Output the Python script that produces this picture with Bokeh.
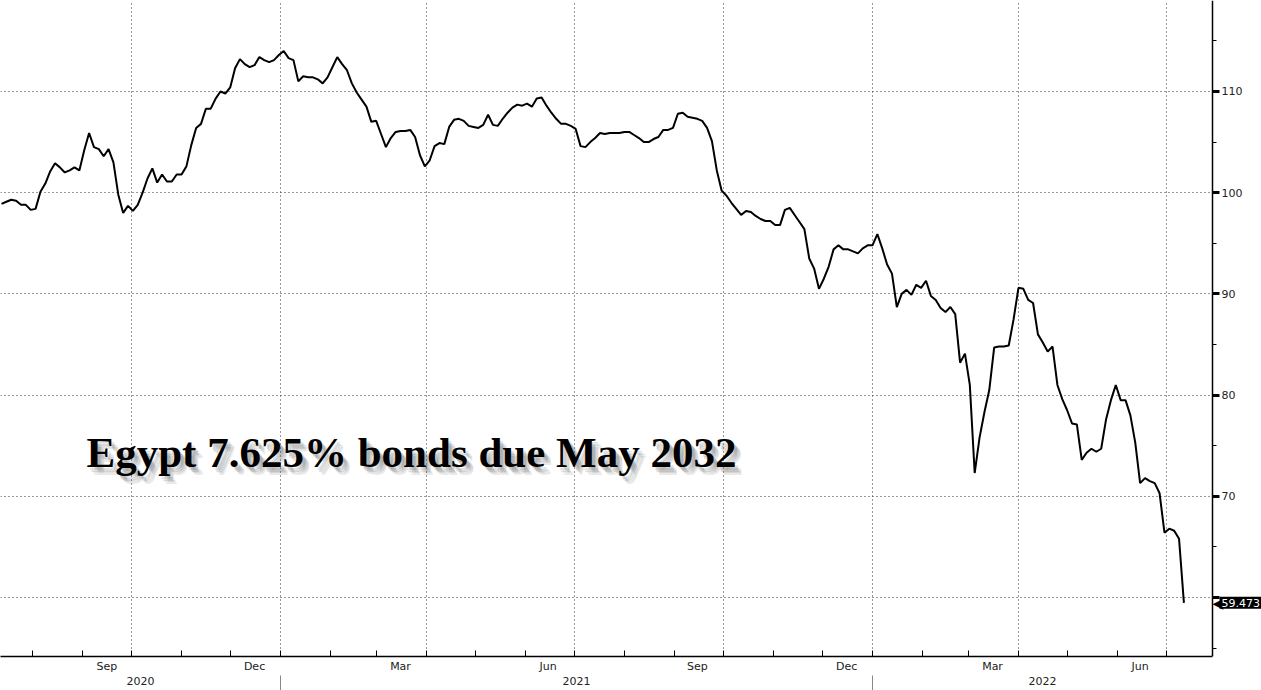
import pandas as pd
from bokeh.plotting import figure
from bokeh.models import (Range1d, FixedTicker, DatetimeAxis, DatetimeTickFormatter,
                          Label, Grid, BoxAnnotation, LinearAxis)
from bokeh.embed import file_html
from bokeh.resources import INLINE

# ---------------- data ----------------
title_text = "Egypt 7.625% bonds due May 2032"
start_date = "2020-07-13"
step = "3D"
price = [
    98.9, 99.1, 99.3, 99.2, 98.8, 98.8, 98.3, 98.4, 100.1, 100.9,
    102.1, 102.9, 102.5, 102.0, 102.2, 102.5, 102.2, 104.2, 105.9, 104.5,
    104.3, 103.6, 104.3, 103.0, 99.8, 98.0, 98.7, 98.2, 98.8, 100.0,
    101.4, 102.4, 101.0, 101.8, 101.1, 101.1, 101.8, 101.8, 102.6, 104.7,
    106.4, 106.8, 108.3, 108.3, 109.3, 110.0, 109.8, 110.4, 112.3, 113.2,
    112.7, 112.4, 112.6, 113.4, 113.1, 112.9, 113.1, 113.6, 114.0, 113.3,
    113.1, 111.0, 111.5, 111.4, 111.4, 111.2, 110.8, 111.4, 112.4, 113.4,
    112.7, 112.1, 110.8, 109.9, 109.2, 108.5, 107.0, 107.1, 105.8, 104.5,
    105.4, 106.0, 106.1, 106.1, 106.2, 105.5, 103.7, 102.6, 103.2, 104.6,
    104.9, 104.8, 106.5, 107.2, 107.3, 107.1, 106.6, 106.5, 106.4, 106.7,
    107.7, 106.7, 106.6, 107.3, 107.9, 108.4, 108.7, 108.6, 108.8, 108.5,
    109.3, 109.4, 108.6, 107.9, 107.3, 106.8, 106.8, 106.6, 106.3, 104.6,
    104.5, 105.0, 105.4, 105.9, 105.8, 105.9, 105.9, 105.9, 106.0, 106.0,
    105.7, 105.4, 105.0, 105.0, 105.3, 105.5, 106.2, 106.2, 106.4, 107.8,
    107.9, 107.5, 107.4, 107.3, 107.1, 106.4, 105.1, 102.2, 100.2, 99.7,
    99.0, 98.4, 97.8, 98.2, 98.1, 97.7, 97.4, 97.2, 97.2, 96.8,
    96.8, 98.3, 98.5, 97.8, 97.1, 96.4, 93.5, 92.5, 90.5, 91.5,
    92.7, 94.4, 94.8, 94.4, 94.4, 94.2, 94.0, 94.5, 94.8, 94.8,
    95.9, 94.5, 92.9, 92.0, 88.7, 90.0, 90.4, 89.9, 90.9, 90.6,
    91.3, 89.8, 89.4, 88.6, 88.2, 88.7, 88.0, 83.2, 84.1, 81.0,
    72.3, 75.8, 78.3, 80.5, 84.7, 84.8, 84.8, 84.9, 87.5, 90.6,
    90.5, 89.4, 89.1, 86.0, 85.2, 84.3, 84.8, 81.0, 79.6, 78.5,
    77.2, 77.1, 73.6, 74.3, 74.7, 74.4, 74.7, 77.6, 79.5, 81.0,
    79.5, 79.5, 78.0, 75.3, 71.3, 71.8, 71.5, 71.3, 70.3, 66.4,
    66.8, 66.6, 65.8, 59.473,
]
dates = pd.date_range(start_date, periods=len(price), freq=step)
last_value = price[-1]

x_start = "2020-07-12 09:00"      # left edge of the chart
x_axis_at = "2022-07-29 15:00"    # where the price axis sits
x_far = "2022-08-28 20:00"        # right edge of the canvas (label strip)
y_low, y_high = 54.17, 118.99

month_label_dates = ["2020-09-16", "2020-12-16", "2021-03-16", "2021-06-15",
                     "2021-09-15", "2021-12-16", "2022-03-16", "2022-06-15"]
month_starts = list(pd.date_range("2020-08-01", "2022-07-01", freq="MS"))
quarter_lines = ["2020-10-01", "2021-01-01", "2021-04-01", "2021-07-01",
                 "2021-10-01", "2022-01-01", "2022-04-01", "2022-07-01"]
year_starts = ["2021-01-01", "2022-01-01"]
y_major = [60, 70, 80, 90, 100, 110]
y_minor = [55, 65, 75, 85, 95, 105, 115]
y_hidden_labels = {60: ""}        # covered by the last-value box in the original


def ms(d):
    return pd.Timestamp(d).value / 1e6


def fmt(s):
    keys = ["microseconds", "milliseconds", "seconds", "minsec", "minutes",
            "hourmin", "hours", "days", "months", "years"]
    return DatetimeTickFormatter(**{k: s for k in keys})


bounds = [ms(x_start)] + [ms(d) for d in year_starts] + [ms(x_axis_at)]
year_centres = [(bounds[i] + bounds[i + 1]) / 2 for i in range(len(bounds) - 1)]

FW, FH = 1261, 656

# ---------------- figure ----------------
p = figure(frame_width=FW, frame_height=FH, x_axis_type=None, y_axis_type=None,
           x_range=Range1d(ms(x_start), ms(x_far)), y_range=Range1d(y_low, y_high),
           output_backend="svg", toolbar_location=None,
           min_border_left=0, min_border_top=0, min_border_bottom=34,
           min_border_right=0)
p.outline_line_color = None
p.background_fill_color = "white"
p.border_fill_color = "white"

# grids
GRID_COLOR = "#333333"
GRID_DASH = "1 3"
ygrid = Grid(dimension=1, ticker=FixedTicker(ticks=y_major),
             grid_line_color=GRID_COLOR, grid_line_dash=GRID_DASH, grid_line_width=1)
xgrid = Grid(dimension=0, ticker=FixedTicker(ticks=[ms(d) for d in quarter_lines]),
             grid_line_color=GRID_COLOR, grid_line_dash=GRID_DASH, grid_line_width=1)
p.add_layout(ygrid)
p.add_layout(xgrid)
# blank strip right of the price axis (covers the grid there)
p.add_layout(BoxAnnotation(left=ms(x_axis_at), right=ms(x_far), fill_color="white",
                           fill_alpha=1, line_color=None, level="underlay"))

LABEL_FONT = dict(major_label_text_font="DejaVu Sans", major_label_text_font_size="11px",
                  major_label_text_color="#222222")

# price axis, pinned at x_axis_at
ya = LinearAxis(ticker=FixedTicker(ticks=y_major, minor_ticks=y_minor),
                fixed_location=ms(x_axis_at),
                axis_line_color="black", axis_line_width=1.5,
                major_tick_in=0, major_tick_out=7, major_tick_line_width=3,
                major_tick_line_color="black",
                minor_tick_in=0, minor_tick_out=4, minor_tick_line_color="black",
                major_label_standoff=2, major_label_overrides=y_hidden_labels,
                **LABEL_FONT)
p.add_layout(ya, "right")

# bottom month axis
month_axis = DatetimeAxis(
    ticker=FixedTicker(ticks=[ms(d) for d in month_label_dates],
                       minor_ticks=[ms(d) for d in month_starts]),
    formatter=fmt("%b"), bounds=(ms(x_start), ms(x_axis_at)),
    axis_line_color="black", axis_line_width=1.5,
    major_tick_in=0, major_tick_out=0,
    minor_tick_in=6, minor_tick_out=0, minor_tick_line_color="black",
    major_label_standoff=3, **LABEL_FONT)
p.add_layout(month_axis, "below")

# year labels with separators
year_axis = DatetimeAxis(
    ticker=FixedTicker(ticks=year_centres, minor_ticks=[ms(d) for d in year_starts]),
    formatter=fmt("%Y"), bounds=(ms(x_start), ms(x_axis_at)),
    axis_line_color=None,
    major_tick_in=0, major_tick_out=0, minor_tick_in=0, minor_tick_out=18,
    minor_tick_line_color="#888888",
    major_label_standoff=-17, **LABEL_FONT)
p.add_layout(year_axis, "below")

# price line
p.line(x=dates, y=price, line_color="black", line_width=2)

# title with soft shadow
title_y = 74.3
for dx, dy, a in [(3, -3, 0.18), (4, -5, 0.18), (6, -6, 0.15), (7, -8, 0.12)]:
    p.add_layout(Label(x=86, y=title_y, x_units="screen", y_units="data",
                       x_offset=dx, y_offset=dy, text=title_text,
                       text_font="Liberation Serif", text_font_style="bold",
                       text_font_size="43px", text_color="#555555", text_alpha=a,
                       text_baseline="alphabetic"))
p.add_layout(Label(x=86, y=title_y, x_units="screen", y_units="data",
                   text=title_text, text_font="Liberation Serif",
                   text_font_style="bold", text_font_size="43px",
                   text_color="black", text_baseline="alphabetic"))

# last value marker
p.add_layout(Label(x=ms(x_axis_at), y=last_value, x_units="data", y_units="data",
                   x_offset=0, text="\u25C0", text_color="black",
                   text_font="DejaVu Sans", text_font_size="14px",
                   text_baseline="middle", level="overlay"))
p.add_layout(Label(x=ms(x_axis_at), y=last_value, x_units="data", y_units="data",
                   x_offset=7, text=f"{last_value:.3f}", text_color="white",
                   background_fill_color="black", text_font="DejaVu Sans",
                   text_font_size="11px", text_baseline="middle", padding=2,
                   level="overlay"))

open("out.html", "w").write(file_html(p, INLINE))
